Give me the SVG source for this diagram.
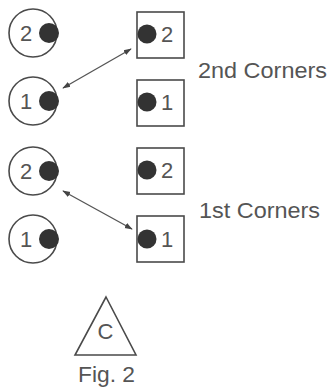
<svg xmlns="http://www.w3.org/2000/svg" width="330" height="388" viewBox="0 0 330 388">
<defs>
<style>
.ring{fill:none;stroke:#4a4a4a;stroke-width:1.6}
.box{fill:none;stroke:#4a4a4a;stroke-width:1.6}
.dot{fill:#333}
.t{font-family:"Liberation Sans",Arial,sans-serif;font-size:22px;fill:#555}
.lab{font-family:"Liberation Sans",Arial,sans-serif;font-size:22px;fill:#555}
.con{stroke:#555;stroke-width:1.3;fill:none;marker-start:url(#ah);marker-end:url(#ah)}
</style>
<marker id="ah" viewBox="0 0 10 10" refX="9" refY="5" markerWidth="8" markerHeight="8" markerUnits="userSpaceOnUse" orient="auto-start-reverse">
<path d="M0,1.5 L10,5 L0,8.5 Z" fill="#444"/>
</marker>
</defs>
<rect width="330" height="388" fill="#fff"/>
<g id="c2top"><circle class="ring" cx="33" cy="33" r="24"/><circle class="dot" cx="49" cy="33" r="10"/><text class="t" x="26" y="41" text-anchor="middle">2</text></g>
<g id="c1top"><circle class="ring" cx="33" cy="101" r="24"/><circle class="dot" cx="49" cy="101" r="10"/><text class="t" x="26" y="109" text-anchor="middle">1</text></g>
<g id="c2bot"><circle class="ring" cx="33" cy="171" r="24"/><circle class="dot" cx="49" cy="171" r="10"/><text class="t" x="26" y="179" text-anchor="middle">2</text></g>
<g id="c1bot"><circle class="ring" cx="33" cy="239" r="24"/><circle class="dot" cx="49" cy="239" r="10"/><text class="t" x="26" y="247" text-anchor="middle">1</text></g>
<g id="s2top"><rect class="box" x="137" y="12" width="47" height="46"/><circle class="dot" cx="147" cy="34" r="9.5"/><text class="t" x="167" y="42" text-anchor="middle">2</text></g>
<g id="s1top"><rect class="box" x="137" y="80" width="47" height="46"/><circle class="dot" cx="147" cy="102" r="9.5"/><text class="t" x="167" y="110" text-anchor="middle">1</text></g>
<g id="s2bot"><rect class="box" x="137" y="148" width="47" height="46"/><circle class="dot" cx="147" cy="170" r="9.5"/><text class="t" x="167" y="178" text-anchor="middle">2</text></g>
<g id="s1bot"><rect class="box" x="137" y="216" width="47" height="46"/><circle class="dot" cx="147" cy="239" r="9.5"/><text class="t" x="167" y="247" text-anchor="middle">1</text></g>
<g id="connectors">
<line class="con" x1="63" y1="88" x2="131" y2="49"/>
<line class="con" x1="63" y1="191" x2="132" y2="229"/>
</g>
<g id="labels">
<text class="lab" x="198" y="78" textLength="129" lengthAdjust="spacingAndGlyphs">2nd Corners</text>
<text class="lab" x="199" y="218" textLength="121" lengthAdjust="spacingAndGlyphs">1st Corners</text>
</g>
<g id="triC"><path class="box" d="M106,297 L136,355 L75,355 Z"/><text class="t" x="105.5" y="339" text-anchor="middle">C</text></g>
<g id="fig"><text class="lab" x="78" y="382" textLength="57" lengthAdjust="spacingAndGlyphs">Fig. 2</text></g>
</svg>
